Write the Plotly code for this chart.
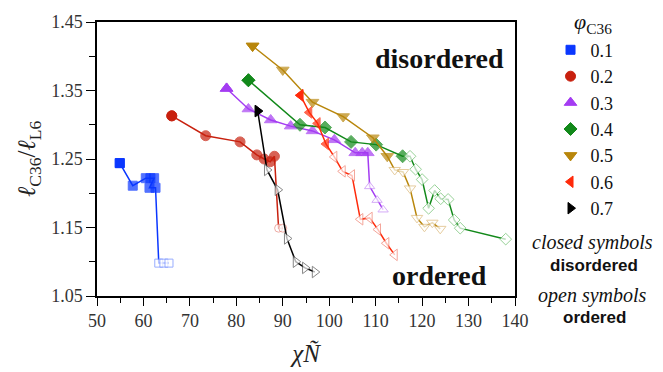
import plotly.graph_objects as go

# ---- data (chi*N, l_C36/l_L6); first n_closed points are disordered (closed symbols) ----
phi_labels = ["0.1", "0.2", "0.3", "0.4", "0.5", "0.6", "0.7"]

x_01 = [54.9, 57.7, 60.5, 61.5, 62.3, 61.3, 62.6, 63.3, 64.4, 65.5]
y_01 = [1.244, 1.211, 1.222, 1.222, 1.222, 1.208, 1.208, 1.098, 1.098, 1.098]
nc_01 = 7

x_02 = [66.1, 73.4, 80.8, 84.4, 86.0, 87.3, 88.2, 89.1, 90.0]
y_02 = [1.313, 1.284, 1.275, 1.256, 1.250, 1.246, 1.254, 1.149, 1.149]
nc_02 = 7

x_03 = [77.9, 82.6, 87.4, 91.7, 96.4, 101.1, 105.6, 107.1, 108.3, 108.7, 110.3, 111.6]
y_03 = [1.353, 1.323, 1.307, 1.298, 1.291, 1.278, 1.259, 1.259, 1.259, 1.210, 1.190, 1.176]
nc_03 = 9

x_04 = [82.6, 93.7, 99.1, 104.7, 110.1, 115.8, 117.4, 118.6, 120.0, 121.4, 122.7, 124.0, 125.6, 126.9, 128.2, 138.0]
y_04 = [1.365, 1.300, 1.296, 1.275, 1.271, 1.254, 1.254, 1.235, 1.220, 1.178, 1.204, 1.192, 1.191, 1.161, 1.149, 1.133]
nc_04 = 6

x_05 = [83.5, 90.0, 96.4, 103.0, 109.4, 112.5, 114.1, 115.9, 117.4, 118.9, 120.5, 122.2, 123.9]
y_05 = [1.415, 1.380, 1.333, 1.312, 1.281, 1.254, 1.234, 1.231, 1.207, 1.164, 1.151, 1.157, 1.148]
nc_05 = 6

x_06 = [93.8, 95.7, 97.5, 99.3, 101.1, 102.9, 104.9, 106.7, 108.7, 110.5, 112.3, 114.1]
y_06 = [1.343, 1.318, 1.302, 1.272, 1.253, 1.232, 1.226, 1.162, 1.164, 1.147, 1.127, 1.110]
nc_06 = 4

x_07 = [84.6, 86.6, 88.9, 90.9, 92.8, 94.8, 96.9]
y_07 = [1.320, 1.234, 1.205, 1.134, 1.100, 1.091, 1.085]
nc_07 = 1

x_ticks = [50, 60, 70, 80, 90, 100, 110, 120, 130, 140]
y_ticks = [1.05, 1.15, 1.25, 1.35, 1.45]

series = [
    (x_01, y_01, nc_01, "square", "#0a37ff", "#6f8cff", 9, 8),
    (x_02, y_02, nc_02, "circle", "#c8200e", "#e88a80", 10, 8),
    (x_03, y_03, nc_03, "triangle-up", "#a43cf2", "#c58af5", 11, 9),
    (x_04, y_04, nc_04, "diamond", "#12891a", "#6cbf6c", 10, 9),
    (x_05, y_05, nc_05, "triangle-down", "#b8860b", "#dcb877", 11, 10),
    (x_06, y_06, nc_06, "triangle-left", "#ff2a0a", "#f08070", 10, 10),
    (x_07, y_07, nc_07, "triangle-right", "#000000", "#555555", 10, 10),
]

fig = go.Figure()
for (xs, ys, nc, sym, col, ocol, sz, osz), lab in zip(series, phi_labels):
    n = len(xs)
    colors = [col if i < nc else "white" for i in range(n)]
    lcolors = [col if i < nc else ocol for i in range(n)]
    sizes = [sz if i < nc else osz for i in range(n)]
    fig.add_trace(go.Scatter(
        x=xs, y=ys, mode="lines+markers", showlegend=False,
        line=dict(color=col, width=1.5),
        marker=dict(symbol=sym, size=sizes, color=colors,
                    line=dict(color=lcolors, width=1)),
    ))
for (xs, ys, nc, sym, col, ocol, sz, osz), lab in zip(series, phi_labels):
    fig.add_trace(go.Scatter(
        x=[xs[0]], y=[ys[0]], mode="markers", name=lab, legendgroup=lab,
        marker=dict(symbol=sym, size=sz, color=col, line=dict(color=col, width=1)),
    ))

serif = "Liberation Serif"
fig.update_layout(
    width=655, height=364,
    margin=dict(l=89, r=148, t=14, b=76),
    plot_bgcolor="white", paper_bgcolor="white",
    font=dict(family=serif, color="#222"),
    legend=dict(x=1.085, y=0.965, xanchor="left", yanchor="top",
                font=dict(family=serif, size=18, color="#111"),
                tracegroupgap=0, bgcolor="rgba(0,0,0,0)"),
    xaxis=dict(range=[50, 140], tickvals=x_ticks, showgrid=False, zeroline=False,
               automargin=False,
               showline=True, linecolor="black", linewidth=1.5, mirror=True,
               ticks="outside", ticklen=8, tickcolor="black",
               minor=dict(dtick=5, ticks="outside", ticklen=5, tickcolor="black"),
               tickfont=dict(family=serif, size=18, color="#333"),
               title=dict(text="<i>χÑ</i>", font=dict(family=serif, size=25, color="#222"), standoff=14)),
    yaxis=dict(range=[1.05, 1.45], tickvals=y_ticks, tickformat=".2f", showgrid=False, zeroline=False,
               automargin=False,
               showline=True, linecolor="black", linewidth=1.5, mirror=True,
               ticks="outside", ticklen=9, tickcolor="black",
               minor=dict(dtick=0.05, ticks="outside", ticklen=6, tickcolor="black"),
               tickfont=dict(family=serif, size=18, color="#333"),
               title=dict(text="<i>ℓ</i><sub>C36</sub>/<i>ℓ</i><sub>L6</sub>",
                          font=dict(family=serif, size=25, color="#222"), standoff=8)),
)

anns = [
    dict(x=0.82, y=0.865, text="<b>disordered</b>", size=28, fam=serif),
    dict(x=0.82, y=0.075, text="<b>ordered</b>", size=28, fam=serif),
    dict(x=1.186, y=0.995, text="<i>φ</i><sub>C36</sub>", size=22, fam=serif),
    dict(x=1.185, y=0.195, text="<i>closed symbols</i>", size=20, fam=serif),
    dict(x=1.19, y=0.113, text="<b>disordered</b>", size=17, fam="Liberation Sans"),
    dict(x=1.185, y=0.003, text="<i>open symbols</i>", size=20, fam=serif),
    dict(x=1.19, y=-0.08, text="<b>ordered</b>", size=17, fam="Liberation Sans"),
]
for a in anns:
    fig.add_annotation(x=a["x"], y=a["y"], xref="paper", yref="paper", text=a["text"],
                       showarrow=False, xanchor="center", yanchor="middle",
                       font=dict(family=a["fam"], size=a["size"], color="#111"))

fig.write_html("out.html")
